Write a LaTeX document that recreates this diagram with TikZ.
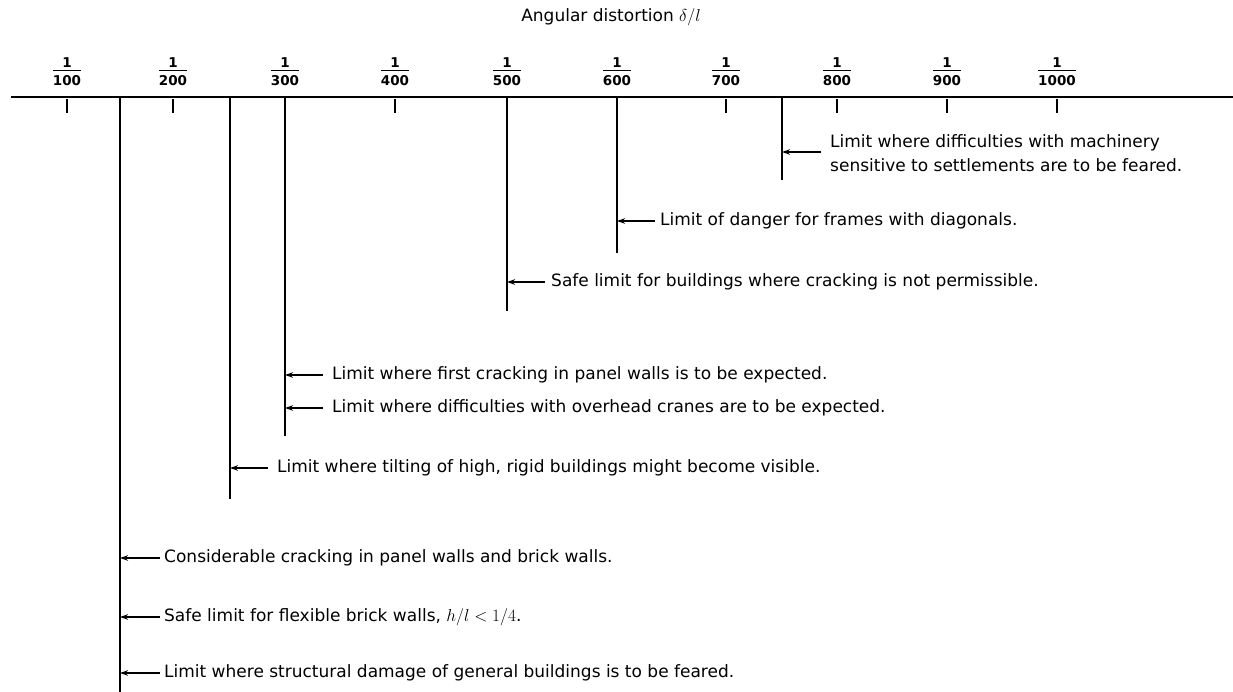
\documentclass[tikz,border=0pt]{standalone}
\usepackage{fontspec}
\setmainfont{DejaVu Sans}
\usetikzlibrary{arrows.meta}

% a fraction 1/n set as numerator, rule and denominator
\newcommand{\onefrac}[1]{\begin{tabular}{@{}c@{}}1\\[-1pt]\hline\rule{0pt}{14pt}#1\end{tabular}}

\begin{document}
\begin{tikzpicture}[x=1pt,y=-1pt,
  lbl/.style={anchor=west, inner sep=0pt, font=\fontsize{17}{24}\selectfont},
  ttl/.style={inner sep=0pt, font=\fontsize{17}{20}\selectfont},
  fracnode/.style={inner sep=0pt, font=\fontsize{13.5}{14}\selectfont\bfseries},
  limitline/.style={line width=2.2pt},
  axisline/.style={line width=1.8pt},
  ticklines/.style={line width=1.3pt},
  ptr/.style={-{Stealth[length=8pt,width=5.5pt]}, line width=1.3pt}]
\useasboundingbox (0,0) rectangle (1233,692);
\setlength{\arrayrulewidth}{1.2pt}

% title
\node[ttl] (title) at (611,17) {Angular distortion $\delta/l$};

% axis
\coordinate (axL) at (11,97);
\coordinate (axR) at (1233,97);
\draw[axisline] (axL) -- (axR);

% scale ticks and fractions
\foreach \n/\x in {100/67,200/173,300/285,400/395,500/507,600/617,700/726,800/837,900/947,1000/1057}{
  \node[fracnode, anchor=north] (f\n) at (\x,57) {\onefrac{\n}};
  \coordinate (tk\n) at (\x,99);
  \draw[ticklines] (tk\n) -- ++(0,14);
}

% limit lines
\coordinate (v1) at (120,97);  \coordinate (v1b) at (120,692);
\coordinate (v2) at (230,97);  \coordinate (v2b) at (230,499);
\coordinate (v3) at (285,97);  \coordinate (v3b) at (285,436);
\coordinate (v4) at (507,97);  \coordinate (v4b) at (507,311);
\coordinate (v5) at (617,97);  \coordinate (v5b) at (617,253);
\coordinate (v6) at (782,97);  \coordinate (v6b) at (782,180);
\foreach \v in {1,...,6}{\draw[limitline] (v\v) -- (v\v b);}

% descriptions
\node[lbl, align=left] (t1) at (830,153.5) {Limit where difficulties with machinery\\sensitive to settlements are to be feared.};
\node[lbl] (t2) at (660,221) {Limit of danger for frames with diagonals.};
\node[lbl] (t3) at (551,282) {Safe limit for buildings where cracking is not permissible.};
\node[lbl] (t4) at (332,375) {Limit where first cracking in panel walls is to be expected.};
\node[lbl] (t5) at (332,408) {Limit where difficulties with overhead cranes are to be expected.};
\node[lbl] (t6) at (277,468) {Limit where tilting of high, rigid buildings might become visible.};
\node[lbl] (t7) at (164,558) {Considerable cracking in panel walls and brick walls.};
\node[lbl] (t8) at (164,617) {Safe limit for flexible brick walls, $h/l<1/4$.};
\node[lbl] (t9) at (164,673) {Limit where structural damage of general buildings is to be feared.};

% pointers
\draw[ptr] ([xshift=-9pt]t1.west |- 0,152) -- (v6 |- 0,152);
\draw[ptr] ([xshift=-5pt]t2.west) -- (t2.west -| v5);
\draw[ptr] ([xshift=-6pt]t3.west) -- (t3.west -| v4);
\draw[ptr] ([xshift=-9pt]t4.west) -- (t4.west -| v3);
\draw[ptr] ([xshift=-9pt]t5.west) -- (t5.west -| v3);
\draw[ptr] ([xshift=-9pt]t6.west) -- (t6.west -| v2);
\draw[ptr] ([xshift=-4pt]t7.west) -- (t7.west -| v1);
\draw[ptr] ([xshift=-4pt]t8.west) -- (t8.west -| v1);
\draw[ptr] ([xshift=-4pt]t9.west) -- (t9.west -| v1);
\end{tikzpicture}
\end{document}
